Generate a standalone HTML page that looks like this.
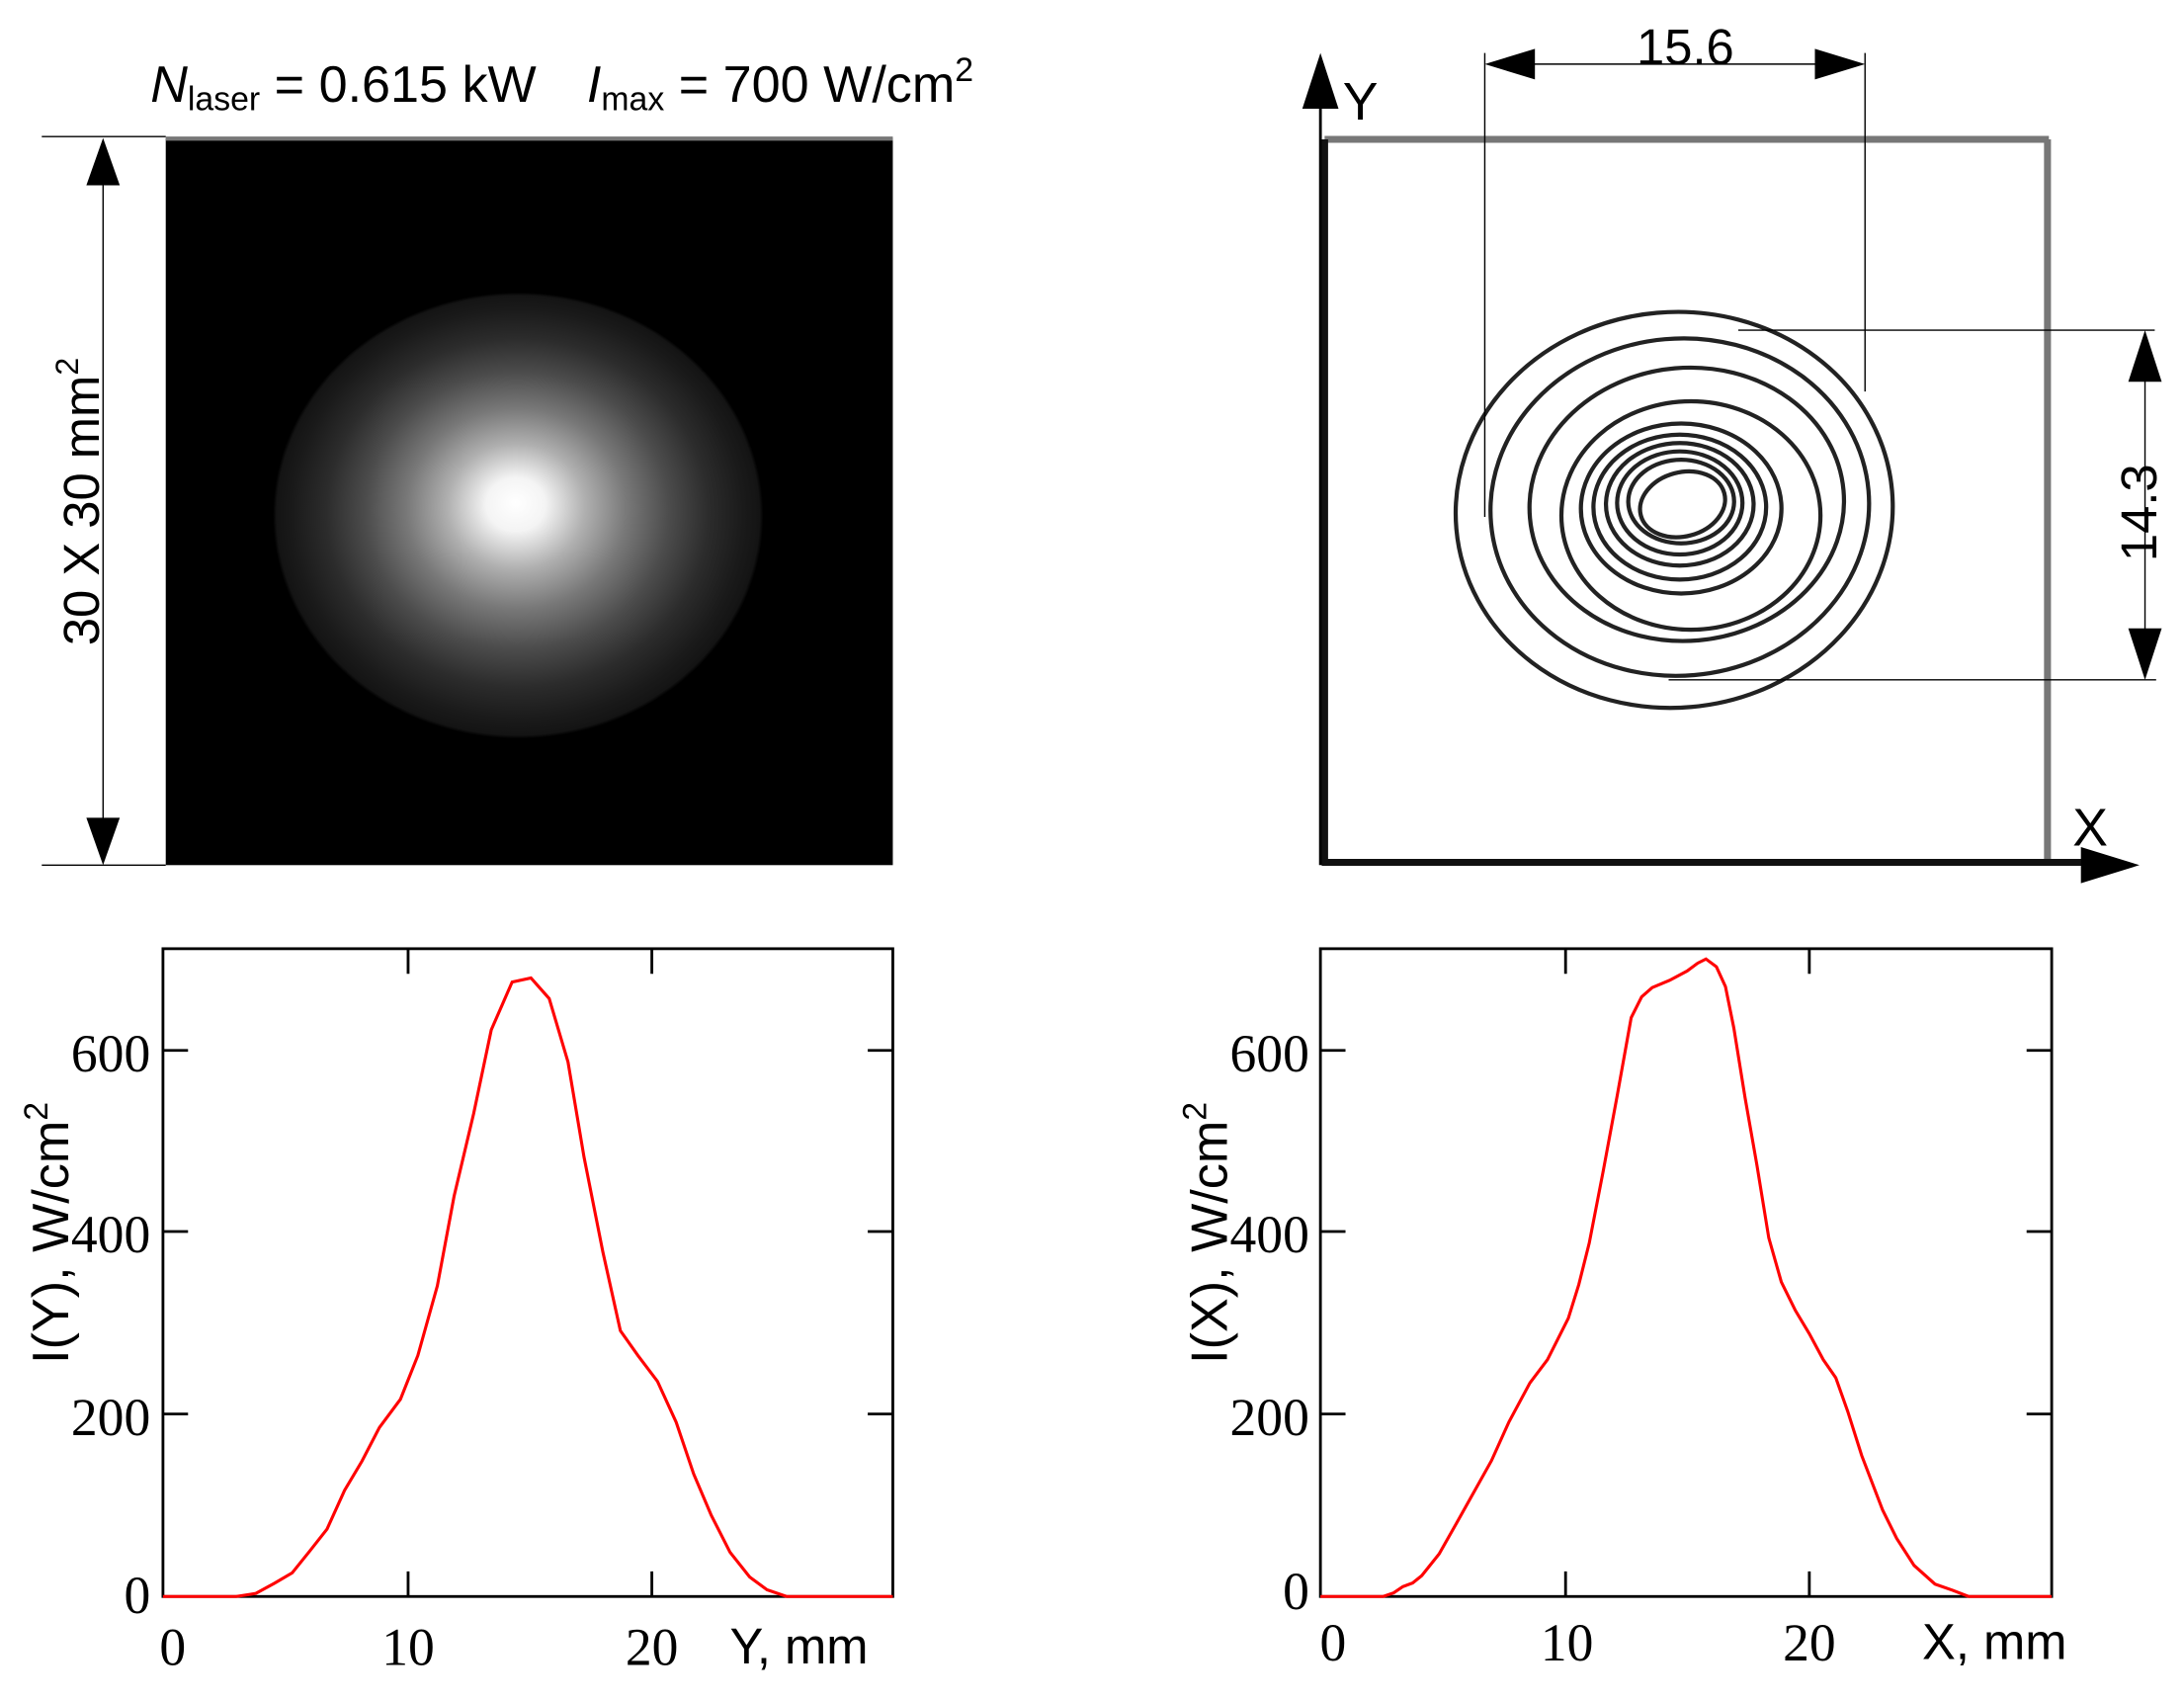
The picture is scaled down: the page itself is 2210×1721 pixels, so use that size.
<!DOCTYPE html>
<html><head><meta charset="utf-8"><style>html,body{margin:0;padding:0;background:#fff}svg{display:block}</style></head>
<body>
<svg width="2210" height="1721" viewBox="0 0 1568 1221" xmlns="http://www.w3.org/2000/svg">
<defs>
<radialGradient id="g" cx="372" cy="370" r="176" fx="370" fy="360" gradientUnits="userSpaceOnUse" gradientTransform="translate(372 370) scale(1 0.91) translate(-372 -370)">
<stop offset="0" stop-color="#fff"/>
<stop offset="0.12" stop-color="#f4f4f4"/>
<stop offset="0.28" stop-color="#b0b0b0"/>
<stop offset="0.45" stop-color="#787878"/>
<stop offset="0.62" stop-color="#4c4c4c"/>
<stop offset="0.78" stop-color="#2c2c2c"/>
<stop offset="0.92" stop-color="#1a1a1a"/>
<stop offset="0.985" stop-color="#141414"/>
<stop offset="1" stop-color="#000"/>
</radialGradient>
</defs>
<g font-family="Liberation Sans, sans-serif">
<!-- Title -->
<text x="108" y="73" font-size="37"><tspan font-style="italic">N</tspan><tspan font-size="24" dy="6">laser</tspan><tspan dy="-6"> = 0.615 kW </tspan><tspan dx="26" font-style="italic">I</tspan><tspan font-size="24" dy="6">max</tspan><tspan dy="-6"> = 700 W/cm</tspan><tspan font-size="24" dy="-15">2</tspan></text>
<!-- Image panel -->
<rect x="119" y="99" width="522" height="522" fill="#000"/>
<line x1="119" y1="99.5" x2="641" y2="99.5" stroke="#777" stroke-width="3"/>
<ellipse cx="372" cy="370" rx="176" ry="160" fill="url(#g)"/>
<line x1="30" y1="98" x2="119" y2="98" stroke="#000" stroke-width="1"/>
<line x1="30" y1="621" x2="119" y2="621" stroke="#000" stroke-width="1"/>
<line x1="74" y1="130" x2="74" y2="590" stroke="#000" stroke-width="1"/>
<polygon points="74,99 62,133 86,133" fill="#000"/>
<polygon points="74,621 62,587 86,587" fill="#000"/>
<text transform="translate(71,360) rotate(-90)" text-anchor="middle" font-size="36">30 X 30 mm<tspan font-size="23" dy="-15">2</tspan></text>

<!-- Contour panel -->
<line x1="951" y1="100" x2="1471" y2="100" stroke="#777" stroke-width="5"/>
<line x1="1470" y1="100" x2="1470" y2="621" stroke="#777" stroke-width="5"/>
<line x1="951" y1="100" x2="951" y2="621" stroke="#111" stroke-width="5"/>
<line x1="949" y1="619" x2="1500" y2="619" stroke="#111" stroke-width="5"/>
<line x1="948" y1="621" x2="948" y2="70" stroke="#000" stroke-width="2"/>
<polygon points="948,38 935,78 961,78" fill="#000"/>
<polygon points="1536,621 1494,608 1494,634" fill="#000"/>
<text x="964" y="86" font-size="38">Y</text>
<text x="1488" y="607" font-size="38">X</text>
<g fill="none" stroke="#222" stroke-width="3">
<ellipse cx="1202" cy="366" rx="157" ry="142" transform="rotate(-5 1202 366)"/>
<ellipse cx="1206" cy="364" rx="136" ry="121" transform="rotate(-5 1206 364)"/>
<ellipse cx="1211" cy="362" rx="113" ry="98" transform="rotate(-5 1211 362)"/>
<ellipse cx="1214" cy="370" rx="93" ry="82"/>
<ellipse cx="1207" cy="365" rx="72" ry="61"/>
<ellipse cx="1206" cy="364" rx="62" ry="52"/>
<ellipse cx="1206" cy="362" rx="53" ry="44"/>
<ellipse cx="1206" cy="361" rx="45" ry="37"/>
<ellipse cx="1207" cy="360" rx="38" ry="30"/>
<ellipse cx="1208" cy="362" rx="31" ry="23" transform="rotate(-15 1208 362)"/>
</g>
<line x1="1066" y1="38" x2="1066" y2="371" stroke="#000" stroke-width="1"/>
<line x1="1339" y1="38" x2="1339" y2="281" stroke="#000" stroke-width="1"/>
<line x1="1100" y1="46" x2="1305" y2="46" stroke="#000" stroke-width="1"/>
<polygon points="1066,46 1102,35 1102,57" fill="#000"/>
<polygon points="1339,46 1303,35 1303,57" fill="#000"/>
<text x="1210" y="46" text-anchor="middle" font-size="36">15.6</text>
<line x1="1248" y1="237" x2="1547" y2="237" stroke="#000" stroke-width="1"/>
<line x1="1198" y1="488" x2="1548" y2="488" stroke="#000" stroke-width="1"/>
<line x1="1540" y1="270" x2="1540" y2="455" stroke="#000" stroke-width="1"/>
<polygon points="1540,237 1528,274 1552,274" fill="#000"/>
<polygon points="1540,488 1528,451 1552,451" fill="#000"/>
<text transform="translate(1548,368) rotate(-90)" text-anchor="middle" font-size="36">14.3</text>

<!-- Bottom-left plot -->
<g stroke="#000" stroke-width="2" fill="none">
<rect x="117" y="681" width="524" height="465"/>
<path d="M117 754h18M117 884h18M117 1015h18M641 754h-18M641 884h-18M641 1015h-18M293 681v18M468 681v18M293 1146v-18M468 1146v-18"/>
</g>
<polyline fill="none" stroke="#f00" stroke-width="2.2" points="117,1146 169.6,1146 183.7,1143.8 197.2,1136.4 209.8,1129 222.3,1113.5 234.8,1097.6 247.4,1069.8 259.9,1048.8 272.4,1024.7 287.5,1004.4 300,973 314,923 326,858.7 340.1,799.2 352.7,739.3 367.7,704.9 381.2,702 394.3,716.8 407.8,762.3 419.3,830.6 432.9,899 445.4,955.2 458,973 472,991.5 485.5,1021 498,1058 510.6,1087.6 524.1,1114.2 538.2,1132 550.7,1141.2 564.7,1146 641,1146"/>
<g font-family="Liberation Serif, serif" font-size="38" text-anchor="end">
<text x="108" y="1158">0</text><text x="108" y="769">600</text><text x="108" y="899">400</text><text x="108" y="1030">200</text>
</g>
<g font-family="Liberation Serif, serif" font-size="38" text-anchor="middle">
<text x="124" y="1195">0</text><text x="293" y="1195">10</text><text x="468" y="1195">20</text>
</g>
<text x="524" y="1194" font-size="36">Y, mm</text>
<text transform="translate(49,885) rotate(-90)" text-anchor="middle" font-size="37">I(Y), W/cm<tspan font-size="24" dy="-15">2</tspan></text>

<!-- Bottom-right plot -->
<g stroke="#000" stroke-width="2" fill="none">
<rect x="948" y="681" width="525" height="465"/>
<path d="M948 754h18M948 884h18M948 1015h18M1473 754h-18M1473 884h-18M1473 1015h-18M1124 681v18M1299 681v18M1124 1146v-18M1299 1146v-18"/>
</g>
<polyline fill="none" stroke="#f00" stroke-width="2.2" points="948,1146 993.1,1146 1000.6,1143.4 1007.2,1138.9 1014.2,1136.3 1020.7,1131.1 1033.2,1115.5 1045.8,1093.2 1058.3,1070.9 1070.8,1048.5 1083.4,1020.6 1098.4,992.7 1111,976 1126,946.2 1133.5,922.1 1141,892.3 1151.1,840.2 1161.1,786.3 1171.1,730.5 1178.6,715.6 1186.2,708.9 1198.7,703.7 1211.3,697 1218.8,691.4 1224.8,688.4 1232.3,694 1238.8,708.2 1244.8,737.9 1252.9,788.1 1261.4,836.5 1269.9,888.6 1278.9,920.2 1289,940.7 1299,957.4 1309,976 1318,989 1326.6,1013.2 1336.6,1044.8 1351.6,1083.9 1361.7,1104.3 1374.2,1123.7 1389.2,1137.1 1401.8,1141.5 1413.3,1146 1473,1146"/>
<g font-family="Liberation Serif, serif" font-size="38" text-anchor="end">
<text x="940" y="1155">0</text><text x="940" y="769">600</text><text x="940" y="899">400</text><text x="940" y="1030">200</text>
</g>
<g font-family="Liberation Serif, serif" font-size="38" text-anchor="middle">
<text x="957" y="1192">0</text><text x="1125" y="1192">10</text><text x="1299" y="1192">20</text>
</g>
<text x="1380" y="1191" font-size="36">X, mm</text>
<text transform="translate(881,885) rotate(-90)" text-anchor="middle" font-size="37">I(X), W/cm<tspan font-size="24" dy="-15">2</tspan></text>
</g>
</svg>
</body></html>
